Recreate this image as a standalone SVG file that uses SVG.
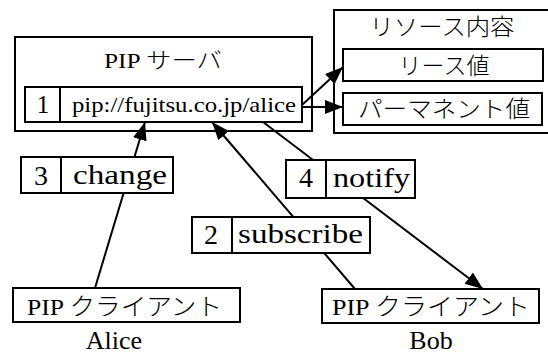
<svg xmlns="http://www.w3.org/2000/svg" width="548" height="356" viewBox="0 0 548 356">
<style>
.box{fill:#fff;stroke:#000;stroke-width:2}
.ln{stroke:#000;stroke-width:2;fill:none}
text{font-family:"Liberation Serif","DejaVu Serif",serif;fill:#000}
.jp{font-family:"Noto Sans CJK JP","Noto Sans CJK SC",sans-serif;font-weight:300}
.m{text-anchor:middle}
</style>
<defs>
<marker id="ah" markerUnits="userSpaceOnUse" markerWidth="20" markerHeight="16" refX="18" refY="7" orient="auto">
<path d="M0,0 L18,7 L0,14 Z" fill="#000"/>
</marker>
</defs>
<rect width="548" height="356" fill="#fff"/>
<g id="pip-server">
<rect class="box" x="15" y="37" width="297" height="94"/>
<text x="104" y="68" font-size="22" textLength="118" lengthAdjust="spacingAndGlyphs">PIP <tspan class="jp">サーバ</tspan></text>
<rect class="box" x="25" y="87" width="277" height="35"/>
<line class="ln" x1="60" y1="87" x2="60" y2="122"/>
<text x="43" y="113" class="m" font-size="25">1</text>
<text x="72" y="112" font-size="22" textLength="224" lengthAdjust="spacingAndGlyphs">pip://fujitsu.co.jp/alice</text>
</g>
<g id="resource">
<rect class="box" x="334" y="10" width="220" height="123"/>
<text x="442" y="35" class="m jp" font-size="23" textLength="145" lengthAdjust="spacingAndGlyphs">リソース内容</text>
</g>
<g id="lease">
<rect class="box" x="343" y="49" width="200" height="32"/>
<text x="444" y="74" class="m jp" font-size="23">リース値</text>
</g>
<g id="permanent">
<rect class="box" x="343" y="93" width="199" height="32"/>
<text x="444" y="117" class="m jp" font-size="23" textLength="172" lengthAdjust="spacingAndGlyphs">パーマネント値</text>
</g>
<g id="connectors">
<line class="ln" x1="302" y1="105" x2="343" y2="67" marker-end="url(#ah)"/>
<line class="ln" x1="302" y1="107" x2="343" y2="107" marker-end="url(#ah)"/>
<line class="ln" x1="95" y1="288" x2="145" y2="122" marker-end="url(#ah)"/>
<line class="ln" x1="355" y1="289" x2="212" y2="122" marker-end="url(#ah)"/>
<line class="ln" x1="263" y1="122" x2="483" y2="289" marker-end="url(#ah)"/>
</g>
<g id="change">
<rect class="box" x="21" y="157" width="152" height="36"/>
<line class="ln" x1="61" y1="157" x2="61" y2="193"/>
<text x="41" y="185" class="m" font-size="28">3</text>
<text x="73" y="184" font-size="28" textLength="94" lengthAdjust="spacingAndGlyphs">change</text>
</g>
<g id="notify">
<rect class="box" x="286" y="160" width="129" height="38"/>
<line class="ln" x1="326" y1="160" x2="326" y2="198"/>
<text x="306" y="187" class="m" font-size="28">4</text>
<text x="333" y="187" font-size="28" textLength="77" lengthAdjust="spacingAndGlyphs">notify</text>
</g>
<g id="subscribe">
<rect class="box" x="192" y="217" width="178" height="36"/>
<line class="ln" x1="232" y1="217" x2="232" y2="253"/>
<text x="211" y="244" class="m" font-size="28">2</text>
<text x="238" y="243" font-size="28" textLength="125" lengthAdjust="spacingAndGlyphs">subscribe</text>
</g>
<g id="alice-client">
<rect class="box" x="13" y="288" width="227" height="34"/>
<text x="27" y="315" font-size="24" textLength="195" lengthAdjust="spacingAndGlyphs">PIP <tspan class="jp">クライアント</tspan></text>
<text x="114" y="349" class="m" font-size="26">Alice</text>
</g>
<g id="bob-client">
<rect class="box" x="322" y="289" width="217" height="34"/>
<text x="332" y="315" font-size="24" textLength="198" lengthAdjust="spacingAndGlyphs">PIP <tspan class="jp">クライアント</tspan></text>
<text x="431" y="349" class="m" font-size="26">Bob</text>
</g>
</svg>
